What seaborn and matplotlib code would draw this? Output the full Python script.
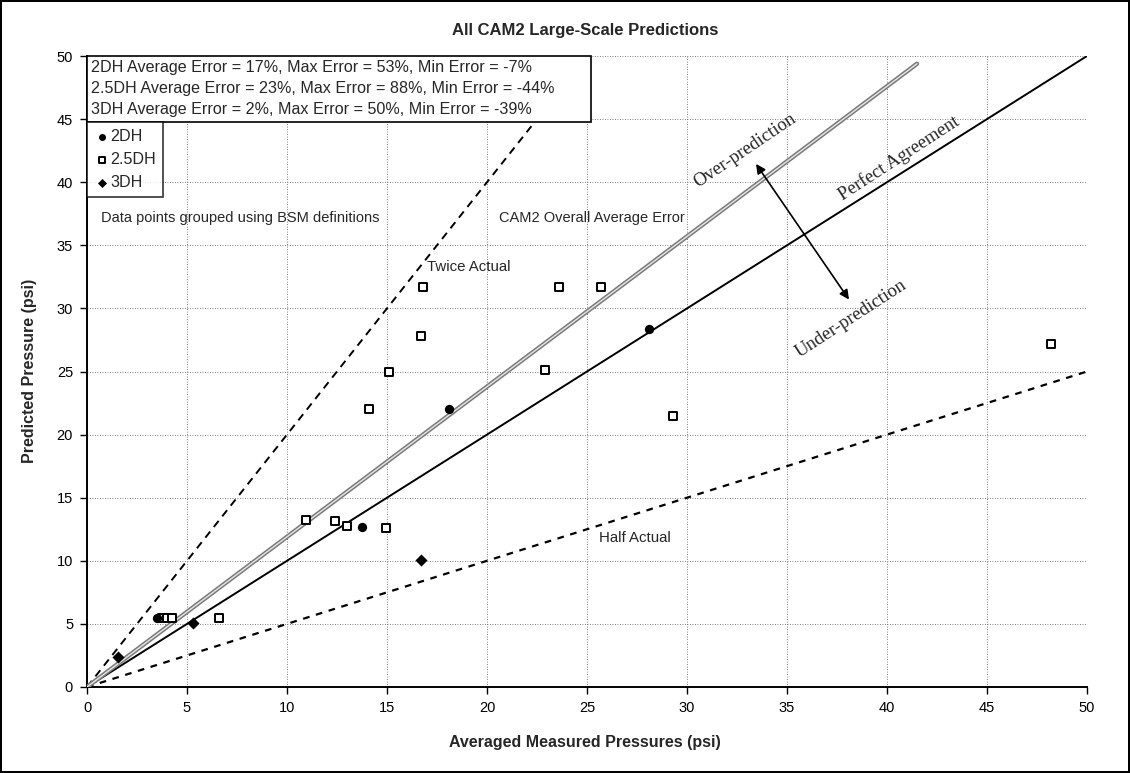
import matplotlib
matplotlib.use("Agg")
import matplotlib.pyplot as plt
from matplotlib.patches import Rectangle
import seaborn as sns
import numpy as np
import pandas as pd

# ---------------- data ----------------
dh2_x = [3.5, 13.75, 18.1, 28.1]
dh2_y = [5.5, 12.7, 22.0, 28.4]

dh25_x = [3.75, 4.0, 4.25, 6.6, 10.95, 12.4, 13.0, 14.95, 14.1, 15.1, 16.7, 16.8, 22.9, 23.6, 25.7, 29.3, 48.2]
dh25_y = [5.5, 5.5, 5.5, 5.45, 13.2, 13.15, 12.75, 12.6, 22.0, 25.0, 27.8, 31.7, 25.1, 31.7, 31.7, 21.5, 27.2]

dh3_x = [1.55, 5.3, 16.7]
dh3_y = [2.4, 5.1, 10.1]

# reference line factors (predicted / measured)
perfect_factor = 1.0
twice_factor = 2.0
half_factor = 0.5
avg_error_factor = 1.19

perfect_x = [0, 50]
twice_x = [0, 25]
half_x = [0, 50]
avg_x = [0, 41.5]

ticks = list(range(0, 55, 5))

stats_lines = [
    "2DH Average Error = 17%, Max Error = 53%, Min Error = -7%",
    "2.5DH Average Error = 23%, Max Error = 88%, Min Error = -44%",
    "3DH Average Error = 2%, Max Error = 50%, Min Error = -39%",
]

# ---------------- style ----------------
sns.set_theme(style="white")
plt.rcParams['font.family'] = ['Liberation Sans', 'DejaVu Sans']

W, H = 1130, 773
fig = plt.figure(figsize=(W / 100, H / 100), dpi=100, facecolor='white',
                 edgecolor='black', linewidth=1.5)
ax_left, ax_right, ax_top, ax_bottom = 87, 1087, 56, 687
ax = fig.add_axes([ax_left / W, 1 - ax_bottom / H, (ax_right - ax_left) / W,
                   (ax_bottom - ax_top) / H])

# reference lines
px = np.array(perfect_x, dtype=float)
sns.lineplot(x=px, y=px * perfect_factor, color='black', lw=1.4, ax=ax, zorder=3)
tx = np.array(twice_x, dtype=float)
sns.lineplot(x=tx, y=tx * twice_factor, color='black', lw=1.4, ax=ax, zorder=2,
             linestyle=(0, (4, 3)))
hx = np.array(half_x, dtype=float)
sns.lineplot(x=hx, y=hx * half_factor, color='black', lw=1.6, ax=ax, zorder=2,
             linestyle=(0, (3, 3)))
avx = np.array(avg_x, dtype=float)
sns.lineplot(x=avx, y=avx * avg_error_factor, color='#7a7a7a', lw=3.2, ax=ax, zorder=3)
sns.lineplot(x=avx, y=avx * avg_error_factor, color='#e6e6e6', lw=1.0, ax=ax, zorder=3)

# data points
sns.scatterplot(x=dh2_x, y=dh2_y, marker='o', color='black', s=45, ax=ax,
                label='2DH', zorder=6, linewidth=0)
sns.scatterplot(x=dh25_x, y=dh25_y, marker='s', color='white', edgecolor='black',
                s=40, linewidth=1.4, ax=ax, label='2.5DH', zorder=5)
sns.scatterplot(x=dh3_x, y=dh3_y, marker='D', color='black', s=38, ax=ax,
                label='3DH', zorder=6, linewidth=0)

ax.set_xlim(0, 50)
ax.set_ylim(0, 50)
ax.set_xticks(ticks)
ax.set_yticks(ticks)
ax.tick_params(axis='both', labelsize=10.5, direction='out', length=5, width=1,
               colors='black', bottom=True, left=True, pad=5)
ax.grid(True, linestyle=(0, (1, 2)), color='#555555', linewidth=0.6)
for side in ['top', 'right']:
    ax.spines[side].set_visible(False)
for side in ['left', 'bottom']:
    ax.spines[side].set_color('black')
    ax.spines[side].set_linewidth(1.4)

ax.set_xlabel("")
ax.set_ylabel("")

# axis labels and title
fig.text(585 / W, 1 - 742 / H, "Averaged Measured Pressures (psi)", ha='center', va='center',
         fontsize=11.5, fontweight='bold')
fig.text(30 / W, 1 - 371 / H, "Predicted Pressure (psi)", ha='center', va='center',
         rotation=90, fontsize=11.5, fontweight='bold')
fig.text(585 / W, 1 - 30 / H, "All CAM2 Large-Scale Predictions", ha='center', va='center',
         fontsize=12, fontweight='bold')

# statistics box (white box with black frame, covering the top-left corner)
ax.add_patch(Rectangle((0, 44.8), 25.2, 5.2, facecolor='white', edgecolor='black',
                       lw=1.2, zorder=9, clip_on=False))
for line, yy in zip(stats_lines, [49.1, 47.45, 45.8]):
    ax.text(0.2, yy, line, fontsize=11.6, ha='left', va='center', zorder=10)

# legend
leg = ax.legend(loc='upper left', bbox_to_anchor=(0.0, 0.896), frameon=True,
                fancybox=False, edgecolor='black', fontsize=11.6, handletextpad=0.1,
                borderpad=0.45, handlelength=0.9, labelspacing=0.5,
                borderaxespad=0.0, markerscale=0.75)
leg.get_frame().set_linewidth(1.2)
leg.set_zorder(10)

# annotations
ax.text(0.7, 37.2, "Data points grouped using BSM definitions", fontsize=10.5,
        ha='left', va='center')
ax.text(20.6, 37.2, "CAM2 Overall Average Error", fontsize=10.5, ha='left', va='center')
ax.text(17.0, 33.3, "Twice Actual", fontsize=10.8, ha='left', va='center')
ax.text(25.6, 11.8, "Half Actual", fontsize=10.8, ha='left', va='center')

serif = ['Liberation Serif', 'DejaVu Serif']
ax.text(32.9, 42.5, "Over-prediction", fontsize=13.5, family=serif, rotation=34,
        ha='center', va='center', rotation_mode='anchor')
ax.text(40.6, 41.9, "Perfect Agreement", fontsize=13.5, family=serif, rotation=33,
        ha='center', va='center', rotation_mode='anchor')
ax.text(38.2, 29.2, "Under-prediction", fontsize=13.5, family=serif, rotation=33,
        ha='center', va='center', rotation_mode='anchor')

ax.annotate('', xy=(33.45, 41.45), xytext=(38.1, 30.7),
            arrowprops=dict(arrowstyle='<|-|>', color='black', lw=1.2,
                            mutation_scale=14, shrinkA=0, shrinkB=0))

fig.savefig("out.png", dpi=100, facecolor='white', edgecolor='black')
